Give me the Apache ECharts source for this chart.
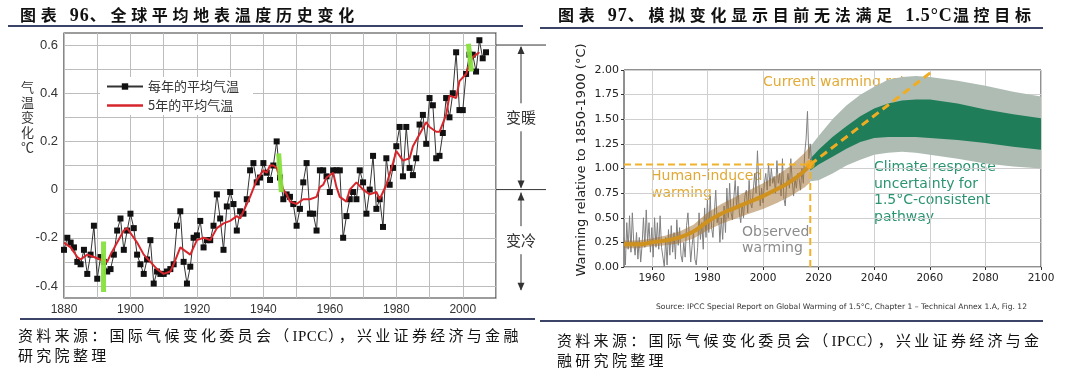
<!DOCTYPE html>
<html><head><meta charset="utf-8">
<script src="https://cdn.jsdelivr.net/npm/echarts@6/dist/echarts.min.js"></script>
<style>
html,body{margin:0;padding:0;background:#fff;}
#wrap{position:relative;width:1080px;height:371px;overflow:hidden;background:#fff;}
#chart{position:absolute;left:0;top:0;width:1080px;height:371px;}
.t{position:absolute;white-space:nowrap;font-family:"Noto Sans CJK SC",sans-serif;color:#111;z-index:5;}
.title{font-weight:700;font-size:16px;letter-spacing:4.7px;line-height:28px;top:0;}
.num{font-family:"Liberation Serif",serif;font-weight:700;font-size:18px;letter-spacing:1px;}
.rule{position:absolute;height:2px;background:#3b4468;z-index:5;}
.src{font-size:15px;letter-spacing:3.3px;line-height:20px;}
.lat{font-family:"Liberation Serif",serif;letter-spacing:0.5px;}
</style></head>
<body>
<div id="wrap">
<div id="chart"></div>
<div class="t title" style="left:20px;">图表 <span class="num">96</span>、全球平均地表温度历史变化</div>
<div class="t title" style="left:558px;">图表 <span class="num">97</span>、模拟变化显示目前无法满足 <span class="num">1.5°C</span>温控目标</div>
<div class="rule" style="left:8px;top:25px;width:515px;"></div>
<div class="rule" style="left:540px;top:27px;width:503px;"></div>
<div class="rule" style="left:20px;top:318px;width:515px;"></div>
<div class="rule" style="left:540px;top:320px;width:503px;"></div>
<div class="t src" style="left:18px;top:325px;">资料来源：国际气候变化委员会（<span class="lat">IPCC</span>），兴业证券经济与金融</div>
<div class="t src" style="left:18px;top:345px;">研究院整理</div>
<div class="t src" style="left:557px;top:330px;">资料来源：国际气候变化委员会（<span class="lat">IPCC</span>），兴业证券经济与金</div>
<div class="t src" style="left:557px;top:350px;">融研究院整理</div>
</div>
<script>
// ---------- Left chart data: global mean surface temperature anomaly ----------
const annualStartYear = 1880;
const annualValues = [
 -0.25,-0.20,-0.22,-0.24,-0.30,-0.31,-0.25,-0.35,-0.27,-0.15,
 -0.37,-0.28,-0.30,-0.34,-0.33,-0.27,-0.17,-0.12,-0.25,-0.17,
 -0.10,-0.16,-0.27,-0.31,-0.35,-0.29,-0.21,-0.39,-0.34,-0.35,
 -0.35,-0.34,-0.33,-0.31,-0.15,-0.09,-0.30,-0.39,-0.32,-0.20,
 -0.19,-0.13,-0.24,-0.21,-0.21,-0.15,-0.02,-0.12,-0.25,-0.07,
 -0.01,-0.06,-0.17,-0.09,-0.10,-0.04,0.08,0.11,0.03,0.05,
 0.11,0.07,0.04,0.10,0.20,0.05,-0.04,-0.02,-0.03,-0.06,
 -0.15,-0.08,0.03,0.11,-0.10,-0.10,-0.17,0.08,0.08,0.055,
 -0.01,0.08,0.08,0.08,-0.20,-0.11,-0.04,-0.01,-0.04,0.08,
 0.03,-0.10,0.00,0.14,-0.08,-0.04,-0.155,0.13,0.02,0.09,
 0.18,0.26,0.055,0.26,0.09,0.06,0.13,0.27,0.31,0.19,
 0.38,0.35,0.13,0.14,0.235,0.38,0.30,0.40,0.57,0.33,
 0.33,0.48,0.56,0.56,0.49,0.62,0.545,0.57
];
const fiveYearYears = [1880,1882,1884,1885,1887,1889,1891,1893,1894,1896,1898,1899,1900,1902,1904,1906,1908,1910,1912,1913,1915,1916,1918,1920,1922,1924,1926,1928,1930,1932,1933,1935,1936,1938,1940,1941,1942,1943,1944,1946,1947,1948,1950,1952,1954,1956,1957,1958,1959,1961,1962,1963,1965,1966,1968,1970,1972,1974,1975,1977,1979,1980,1982,1984,1985,1987,1989,1990,1992,1993,1995,1996,1998,1999,2001,2002,2003,2005];
const fiveYearValues = [-0.22,-0.24,-0.28,-0.29,-0.27,-0.28,-0.29,-0.30,-0.27,-0.22,-0.17,-0.16,-0.18,-0.22,-0.27,-0.30,-0.33,-0.35,-0.34,-0.31,-0.24,-0.25,-0.27,-0.21,-0.20,-0.21,-0.16,-0.14,-0.13,-0.11,-0.12,-0.06,-0.03,0.04,0.08,0.07,0.10,0.10,0.09,0.00,-0.02,-0.05,-0.06,-0.04,-0.04,-0.03,0.01,0.02,0.05,0.07,0.01,-0.03,-0.05,0.00,0.03,0.00,-0.02,-0.01,-0.04,0.02,0.11,0.16,0.12,0.13,0.18,0.23,0.28,0.26,0.24,0.24,0.31,0.39,0.38,0.45,0.48,0.52,0.55,0.57];
const greenMarkYears = [[1891.9,1891.9],[1944.6,1945.4],[2001.7,2002.6]];
const greenMarkValues = [[-0.215,-0.425],[0.15,-0.01],[0.605,0.49]];
const leftLegendNames = ['每年的平均气温','5年的平均气温'];
const leftYGridValues = [-0.4,-0.3,-0.2,-0.1,0,0.1,0.2,0.3,0.4,0.5,0.6];
const leftYLabelValues = [-0.4,-0.2,0,0.2,0.4,0.6];
const leftYName = ['气','温','变','化','℃'];
const warmLabel = '变暖', coolLabel = '变冷';
const warmTop = 0.6, warmBottom = 0, coolBottom = -0.42;

// ---------- Right chart data: IPCC SR1.5 warming ----------
const obsStartYear = 1950, obsStep = 0.5;
const obsValues = [
 0.30,0.02,0.45,0.18,0.52,0.15,0.55,0.25,0.12,0.35,0.08,0.30,0.05,0.22,0.50,0.20,0.58,0.25,0.45,0.15,
 0.40,0.10,0.50,0.20,0.45,0.18,0.52,0.20,0.10,0.00,0.30,0.02,0.38,0.12,0.42,0.15,0.35,0.08,0.48,0.22,
 0.40,0.12,0.05,0.25,0.10,0.42,0.55,0.30,0.05,0.22,0.35,0.08,0.02,0.20,0.55,0.28,0.45,0.18,0.60,0.30,
 0.68,0.35,0.72,0.40,0.30,0.55,0.78,0.45,0.55,0.25,0.50,0.28,0.62,0.35,0.80,0.50,0.85,0.55,0.48,0.70,
 0.88,0.60,0.82,0.55,0.45,0.65,0.50,0.72,0.78,0.55,0.88,0.65,0.60,0.78,0.95,0.75,1.18,0.85,0.62,0.80,
 0.65,0.85,0.95,0.78,1.05,0.82,1.00,0.85,0.92,0.75,1.08,0.85,0.95,0.72,1.10,0.70,0.62,0.85,0.95,0.80,
 1.10,0.88,0.72,0.90,0.80,0.95,0.90,0.78,1.00,0.85,1.15,1.30,1.58,1.10,1.25,1.05
];
const humanYears = [1950,1955,1960,1965,1970,1975,1980,1985,1990,1995,2000,2005,2010,2015,2017];
const humanMid = [0.23,0.23,0.25,0.27,0.30,0.36,0.46,0.54,0.60,0.66,0.72,0.79,0.87,0.98,1.04];
const humanLo  = [0.19,0.19,0.21,0.22,0.24,0.29,0.37,0.44,0.49,0.54,0.59,0.65,0.72,0.81,0.86];
const humanHi  = [0.27,0.27,0.29,0.32,0.36,0.43,0.55,0.64,0.71,0.78,0.85,0.93,1.03,1.16,1.23];
const futureYears = [2017,2020,2025,2030,2035,2040,2045,2050,2055,2060,2070,2080,2090,2100];
const greenLo = [0.98,1.04,1.12,1.20,1.27,1.31,1.32,1.32,1.32,1.31,1.29,1.26,1.22,1.19];
const greenHi = [1.10,1.19,1.32,1.43,1.53,1.61,1.66,1.69,1.70,1.70,1.66,1.60,1.55,1.51];
const greyLo  = [0.87,0.88,0.95,1.03,1.09,1.14,1.16,1.17,1.16,1.14,1.10,1.05,1.02,1.00];
const greyHi  = [1.22,1.33,1.50,1.64,1.75,1.83,1.90,1.93,1.94,1.93,1.89,1.84,1.78,1.73];
const currentYear = 2017, currentWarming = 1.04;
const rateEndYear = 2061.5, rateEndValue = 2.0;
const rightXTicks = [1960,1980,2000,2020,2040,2060,2080,2100];
const rightYTicks = [0,0.25,0.5,0.75,1,1.25,1.5,1.75,2];

// ---------- build ----------
const annualData = annualValues.map((v,i)=>[annualStartYear+i, v]);
const fiveYearData = fiveYearYears.map((y,i)=>[y, fiveYearValues[i]]);
const obsData = obsValues.map((v,i)=>[obsStartYear+i*obsStep, v]);
const humanData = humanYears.map((y,i)=>[y, humanMid[i]]);

function band(years, lo, hi, color, z){
  return {
    type:'custom', xAxisIndex:1, yAxisIndex:1, z:z, silent:true, clip:true,
    data:[[years[0], lo[0]]],
    renderItem:function(params, api){
      const pts=[];
      for(let i=0;i<years.length;i++) pts.push(api.coord([years[i], hi[i]]));
      for(let i=years.length-1;i>=0;i--) pts.push(api.coord([years[i], lo[i]]));
      return {type:'polygon', shape:{points:pts}, style:{fill:color}};
    }
  };
}

const greenSeries = greenMarkYears.map((ys,k)=>({
  type:'line', xAxisIndex:0, yAxisIndex:0, z:6, silent:true, symbol:'none',
  data:[[ys[0], greenMarkValues[k][0]],[ys[1], greenMarkValues[k][1]]],
  lineStyle:{color:'#86e03c', width:5, opacity:0.95}
}));

const chart = echarts.init(document.getElementById('chart'));
const option = {
  animation:false,
  backgroundColor:'#fff',
  grid:[
    {left:64, top:33, width:432, height:265, show:true, borderColor:'#3a3a3a', borderWidth:1.2},
    {left:624, top:70, width:417, height:197, show:true, borderColor:'#222', borderWidth:1}
  ],
  legend:{
    data:[{name:leftLegendNames[0]}, {name:leftLegendNames[1], icon:'path://M0,0H40V2.6H0Z'}],
    orient:'vertical', left:100, top:77, itemWidth:36, itemHeight:8, itemGap:6,
    backgroundColor:'#fff', padding:[3,14,3,6],
    textStyle:{fontSize:13, color:'#333', fontFamily:'Noto Sans CJK SC'}
  },
  xAxis:[
    {gridIndex:0, type:'value', min:1880, max:2010, interval:10,
     axisLine:{show:false}, axisTick:{show:false},
     splitLine:{show:true, lineStyle:{color:'#bdbdbd', width:1}},
     axisLabel:{formatter:v=> (v%20===0? String(v):''), color:'#333', fontSize:12, margin:6, fontFamily:'Liberation Sans'}},
    {gridIndex:1, type:'value', min:1950, max:2100,
     axisLine:{show:false},
     axisTick:{show:true, length:3, customValues:rightXTicks, lineStyle:{color:'#333'}},
     axisLabel:{customValues:rightXTicks, formatter:v=>String(v), color:'#222', fontSize:10.5, fontFamily:'DejaVu Sans', margin:6},
     splitLine:{show:true, lineStyle:{color:'#cfcfcf', width:1}}}
  ],
  yAxis:[
    {gridIndex:0, type:'value', min:-0.45, max:0.65,
     axisLine:{show:false},
     axisTick:{show:false, customValues:leftYGridValues},
     axisLabel:{customValues:leftYLabelValues, formatter:v=> (Math.abs(v)<1e-9?'0':v.toFixed(1)), color:'#333', fontSize:13, margin:6, fontFamily:'Liberation Sans'},
     splitLine:{show:true, lineStyle:{color:'#bdbdbd', width:1}}},
    {gridIndex:1, type:'value', min:0, max:2, interval:0.25,
     axisLine:{show:false},
     axisTick:{show:true, length:3, lineStyle:{color:'#333'}},
     axisLabel:{formatter:v=>v.toFixed(2), color:'#222', fontSize:11, fontFamily:'DejaVu Sans', margin:5},
     splitLine:{show:true, lineStyle:{color:'#cfcfcf', width:1}}}
  ],
  series:[
    {name:leftLegendNames[0], type:'line', xAxisIndex:0, yAxisIndex:0, z:3, data:annualData,
     symbol:'rect', symbolSize:6, lineStyle:{color:'#333', width:1}, itemStyle:{color:'#111'}},
    {name:leftLegendNames[1], type:'line', xAxisIndex:0, yAxisIndex:0, z:4, data:fiveYearData,
     symbol:'none', lineStyle:{color:'#d7262b', width:2}, itemStyle:{color:'#d7262b'}},
    ...greenSeries,
    band(futureYears, greyLo, greyHi, '#aebcb4', 2),
    band(futureYears, greenLo, greenHi, '#1f7d59', 3),
    {type:'line', xAxisIndex:1, yAxisIndex:1, z:3, data:obsData, symbol:'none', silent:true,
     lineStyle:{color:'#808080', width:1}},
    band(humanYears, humanLo, humanHi, 'rgba(160,110,45,0.5)', 4),
    {type:'line', xAxisIndex:1, yAxisIndex:1, z:5, data:humanData, symbol:'none', smooth:true, silent:true,
     lineStyle:{color:'#d0921e', width:4}},
    {type:'line', xAxisIndex:1, yAxisIndex:1, z:6, symbol:'none', silent:true,
     data:[[1950,currentWarming],[currentYear,currentWarming]],
     lineStyle:{color:'#f0b12c', width:2, type:[7,4]}},
    {type:'line', xAxisIndex:1, yAxisIndex:1, z:6, symbol:'none', silent:true,
     data:[[currentYear,0],[currentYear,currentWarming]],
     lineStyle:{color:'#f0b12c', width:2, type:[7,4]}},
    {type:'line', xAxisIndex:1, yAxisIndex:1, z:6, symbol:'none', silent:true,
     data:[[currentYear,currentWarming],[rateEndYear,rateEndValue]],
     lineStyle:{color:'#f0ad22', width:3, type:[8,5]}},
    {type:'scatter', xAxisIndex:1, yAxisIndex:1, z:7, silent:true,
     data:[[currentYear,currentWarming]], symbolSize:9, itemStyle:{color:'#f5a81c'}}
  ],
  graphic:[
    {type:'text', id:'lyname', left:21, top:80, style:{text:leftYName.join('\n'), fontSize:13, lineHeight:15, fill:'#333', fontFamily:'Noto Sans CJK SC', align:'center'}},
    {type:'text', id:'ryname', x:582, y:160, rotation:Math.PI/2,
     style:{text:'Warming relative to 1850-1900 (°C)', fontSize:13, fill:'#222', fontFamily:'DejaVu Sans', align:'center', verticalAlign:'middle'}},
    {type:'text', id:'cwr', x:763, y:75, style:{text:'Current warming rate', fontSize:14, fill:'#e2aa35', fontFamily:'DejaVu Sans'}},
    {type:'text', id:'hiw', x:651, y:168, style:{text:'Human-induced\nwarming', fontSize:14, lineHeight:17, fill:'#e0a935', fontFamily:'DejaVu Sans'}},
    {type:'text', id:'obw', x:742, y:224, style:{text:'Observed\nwarming', fontSize:14, lineHeight:16, fill:'#8c8c8c', fontFamily:'DejaVu Sans'}},
    {type:'text', id:'crt', x:874, y:159, style:{text:'Climate response\nuncertainty for\n1.5°C-consistent\npathway', fontSize:14, lineHeight:16.7, fill:'#2a9470', fontFamily:'DejaVu Sans'}},
    {type:'text', id:'srcnote', x:1027, y:307, style:{text:'Source: IPCC Special Report on Global Warming of 1.5°C, Chapter 1 – Technical Annex 1.A, Fig. 12', fontSize:7.6, fill:'#333', fontFamily:'DejaVu Sans', align:'right', verticalAlign:'middle'}}
  ]
};
chart.setOption(option);

// left side warming / cooling annotation, placed via the left chart's scale
const pTop = chart.convertToPixel({xAxisIndex:0, yAxisIndex:0}, [2010, warmTop]);
const pZero = chart.convertToPixel({xAxisIndex:0, yAxisIndex:0}, [2010, warmBottom]);
const pLow = chart.convertToPixel({xAxisIndex:0, yAxisIndex:0}, [2010, coolBottom]);
const gx0 = pTop[0], ax = gx0 + 25, gx1 = gx0 + 50;
const yT = pTop[1], yZ = pZero[1], yL = pLow[1];
const mW = (yT + yZ)/2, mC = (yZ + yL)/2;
const ln = {stroke:'#333', lineWidth:1};
function seg(id,x1,y1,x2,y2){return {type:'line', id:id, shape:{x1:x1,y1:y1,x2:x2,y2:y2}, style:ln, z:10};}
function head(id,x,y,dir){return {type:'polygon', id:id, shape:{points:[[x,y],[x-3.5,y-8*dir],[x+3.5,y-8*dir]]}, style:{fill:'#333'}, z:10};}
chart.setOption({graphic:[
  seg('h06', gx0, yT, gx1, yT),
  seg('h00', gx0, yZ, gx1, yZ),
  seg('w1', ax, yT+2, ax, mW-14),
  seg('w2', ax, mW+14, ax, yZ-2),
  seg('c1', ax, yZ+3, ax, mC-14),
  seg('c2', ax, mC+14, ax, yL-1),
  head('wh1', ax, yT+1, -1),
  head('wh2', ax, yZ-1, 1),
  head('ch1', ax, yZ+3, -1),
  head('ch2', ax, yL, 1),
  {type:'text', id:'warmT', x:ax, y:mW, style:{text:warmLabel, fontSize:15, fill:'#333', fontFamily:'Noto Sans CJK SC', align:'center', verticalAlign:'middle'}, z:10},
  {type:'text', id:'coolT', x:ax, y:mC, style:{text:coolLabel, fontSize:15, fill:'#333', fontFamily:'Noto Sans CJK SC', align:'center', verticalAlign:'middle'}, z:10}
]});
</script>
</body></html>
